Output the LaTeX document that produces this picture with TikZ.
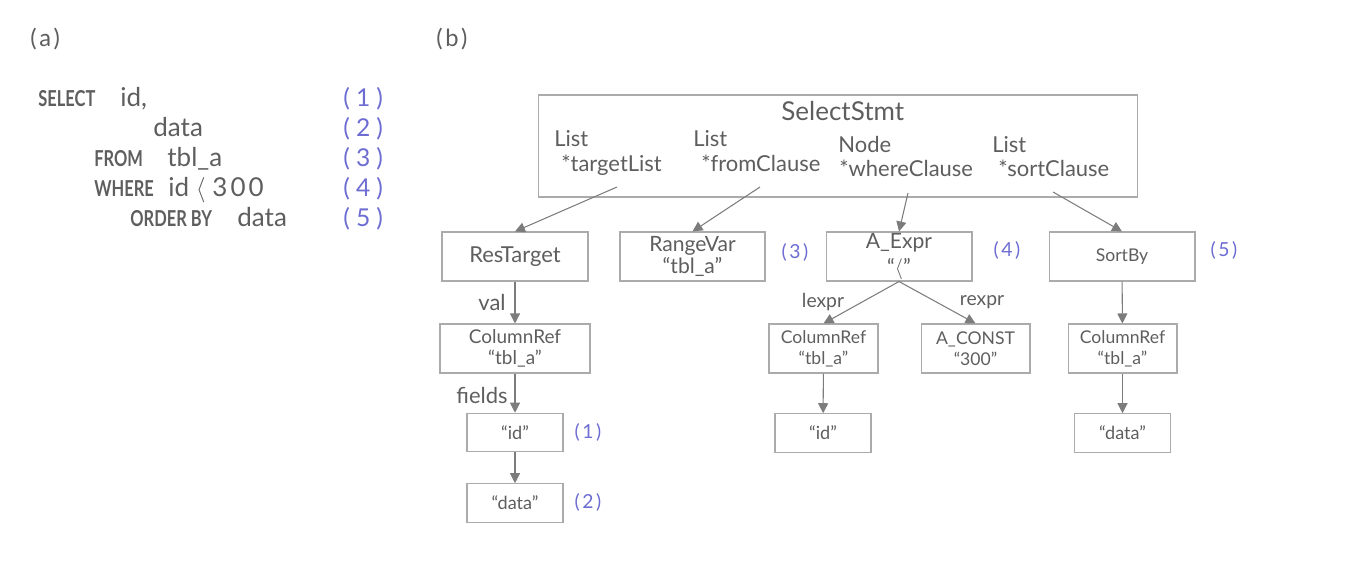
\documentclass[tikz,border=0pt]{standalone}
\usepackage{fontspec}
\setmainfont{Lato}
\newfontfamily\keyfont[FakeStretch=0.75]{Lato}
\usetikzlibrary{arrows.meta}
\definecolor{astgray}{HTML}{5E5E5E}
\definecolor{astline}{HTML}{ABABAB}
\definecolor{arrowgray}{HTML}{7C7C7C}
\definecolor{astblue}{HTML}{6C6CD2}

\begin{document}
\begin{tikzpicture}[x=0.02cm,y=-0.02cm,
 treebox/.style={draw=astline,line width=0.6pt,align=center,inner sep=0pt,minimum height=0.98cm,text=astgray,font=\fontsize{12}{13}\selectfont},
 smallbox/.style={treebox,font=\fontsize{10}{12}\selectfont},
 leafbox/.style={treebox,minimum height=0.77cm,minimum width=1.92cm,font=\fontsize{10.3}{11}\selectfont},
 sqlword/.style={anchor=base west,inner sep=0pt,text=astgray,font=\fontsize{14.8}{16}\selectfont},
 sqlkey/.style={sqlword,font=\fontsize{12.5}{14}\keyfont\bfseries},
 fieldtext/.style={anchor=base west,inner sep=0pt,text=astgray,font=\fontsize{12.5}{14}\selectfont},
 refnum/.style={anchor=base west,inner sep=0pt,text=astblue,font=\fontsize{14}{15}\selectfont},
 refsmall/.style={inner sep=0pt,text=astblue,font=\fontsize{11}{13}\selectfont},
 edgelabel/.style={inner sep=0pt,text=astgray,font=\fontsize{11}{13}\selectfont},
 astarrow/.style={-{Triangle[length=2mm,width=2mm]},draw=arrowgray,line width=0.6pt}
]
\useasboundingbox (0,0) rectangle (1371,587);

% panel titles
\node[sqlword,font=\fontsize{13.5}{15}\selectfont] (tita) at (30,47) {(\hspace{1.5pt}a\hspace{1.5pt})};
\node[sqlword,font=\fontsize{13.5}{15}\selectfont] (titb) at (436,47) {(\hspace{1.5pt}b\hspace{1.5pt})};

% (a) query text
\node[sqlkey] (kselect) at (38,107) {SELECT};
\node[sqlword] (wid) at (120,107) {id,};
\node[sqlword] (wdata) at (153,137) {data};
\node[sqlkey] (kfrom) at (94,167) {FROM};
\node[sqlword] (wtbl) at (167,167) {tbl\_a};
\node[sqlkey] (kwhere) at (94,197) {WHERE};
\node[sqlword] (wcond) at (168,197) {id $\langle$ {\addfontfeatures{LetterSpace=12}300}};
\node[sqlkey] (korder) at (130,227) {ORDER BY};
\node[sqlword] (wsort) at (237,227) {data};
\foreach \n/\y in {1/107,2/137,3/167,4/197,5/227}
  \node[refnum] (num\n) at (343,\y) {(\hspace{3.5pt}\n\hspace{3.5pt})};

% (b) parse tree
\node[draw=astline,line width=0.6pt,minimum width=12cm,minimum height=2.04cm,inner sep=0pt] (stmt) at (838,146) {};
\node[sqlword] (stmtname) at (781,121) {SelectStmt};
\node[fieldtext] (tltype) at (554,147) {List};
\node[fieldtext] (tlname) at (561,172) {*targetList};
\node[fieldtext] (fctype) at (693,147) {List};
\node[fieldtext] (fcname) at (701,172) {*fromClause};
\node[fieldtext] (wctype) at (838,153) {Node};
\node[fieldtext] (wcname) at (839,177) {*whereClause};
\node[fieldtext] (sctype) at (992,153) {List};
\node[fieldtext] (scname) at (998,177) {*sortClause};
\coordinate (tlout) at (617,187);
\coordinate (fcout) at (760,187);
\coordinate (wcout) at (908,193);
\coordinate (scout) at (1053,192);

\node[treebox,minimum width=2.92cm,font=\fontsize{12.5}{13}\selectfont] (restarget) at (515,256.5) {ResTarget};
\node[treebox,minimum width=2.9cm] (rangevar) at (692.5,256.5) {RangeVar\\“tbl\_a”};
\node[treebox,minimum width=2.92cm,font=\fontsize{12}{15}\selectfont] (aexpr) at (899,256.5) {A\_Expr\\“$\langle$”};
\node[smallbox,minimum width=2.92cm] (sortby) at (1122,256.5) {SortBy};
\node[refsmall] (num3b) at (795,252) {(\hspace{1.5pt}3\hspace{1.5pt})};
\node[refsmall] (num4b) at (1007,250) {(\hspace{1.5pt}4\hspace{1.5pt})};
\node[refsmall] (num5b) at (1224,250) {(\hspace{1.5pt}5\hspace{1.5pt})};

\node[smallbox,minimum width=3cm,font=\fontsize{10.8}{12}\selectfont] (colref1) at (515,348.5) {ColumnRef\\“tbl\_a”};
\node[leafbox] (id1) at (515,432.5) {“id”};
\node[leafbox] (data1) at (515,503) {“data”};
\node[refsmall] (num1b) at (588,432) {(\hspace{1.5pt}1\hspace{1.5pt})};
\node[refsmall] (num2b) at (588,502) {(\hspace{1.5pt}2\hspace{1.5pt})};

\node[smallbox,minimum width=2.18cm] (colref2) at (823.5,348.5) {ColumnRef\\“tbl\_a”};
\node[smallbox,minimum width=2.18cm] (aconst) at (975.5,348.5) {A\_CONST\\“300”};
\node[leafbox] (id2) at (823,433) {“id”};

\node[smallbox,minimum width=2.18cm] (colref3) at (1122.5,348.5) {ColumnRef\\“tbl\_a”};
\node[leafbox] (data3) at (1122.5,433) {“data”};

\draw[astarrow] (tlout) -- (restarget.north);
\draw[astarrow] (fcout) -- (rangevar.north);
\draw[astarrow] (wcout) -- (aexpr.north);
\draw[astarrow] (scout) -- (sortby.north);
\draw[astarrow] (restarget) -- (colref1);
\draw[astarrow] (colref1) -- (id1);
\draw[astarrow] (id1) -- (data1);
\draw[astarrow] (aexpr.south) -- (colref2.north);
\draw[astarrow] (aexpr.south) -- (aconst.north);
\draw[astarrow] (colref2) -- (id2);
\draw[astarrow] (sortby) -- (colref3);
\draw[astarrow] (colref3) -- (data3);

\node[edgelabel,font=\fontsize{12.5}{14}\selectfont] (lval) at (492,303) {val};
\node[edgelabel,font=\fontsize{12.5}{14}\selectfont] (lfields) at (482,395) {fields};
\node[edgelabel] (llexpr) at (823,302) {lexpr};
\node[edgelabel] (lrexpr) at (982,302) {rexpr};
\end{tikzpicture}
\end{document}
